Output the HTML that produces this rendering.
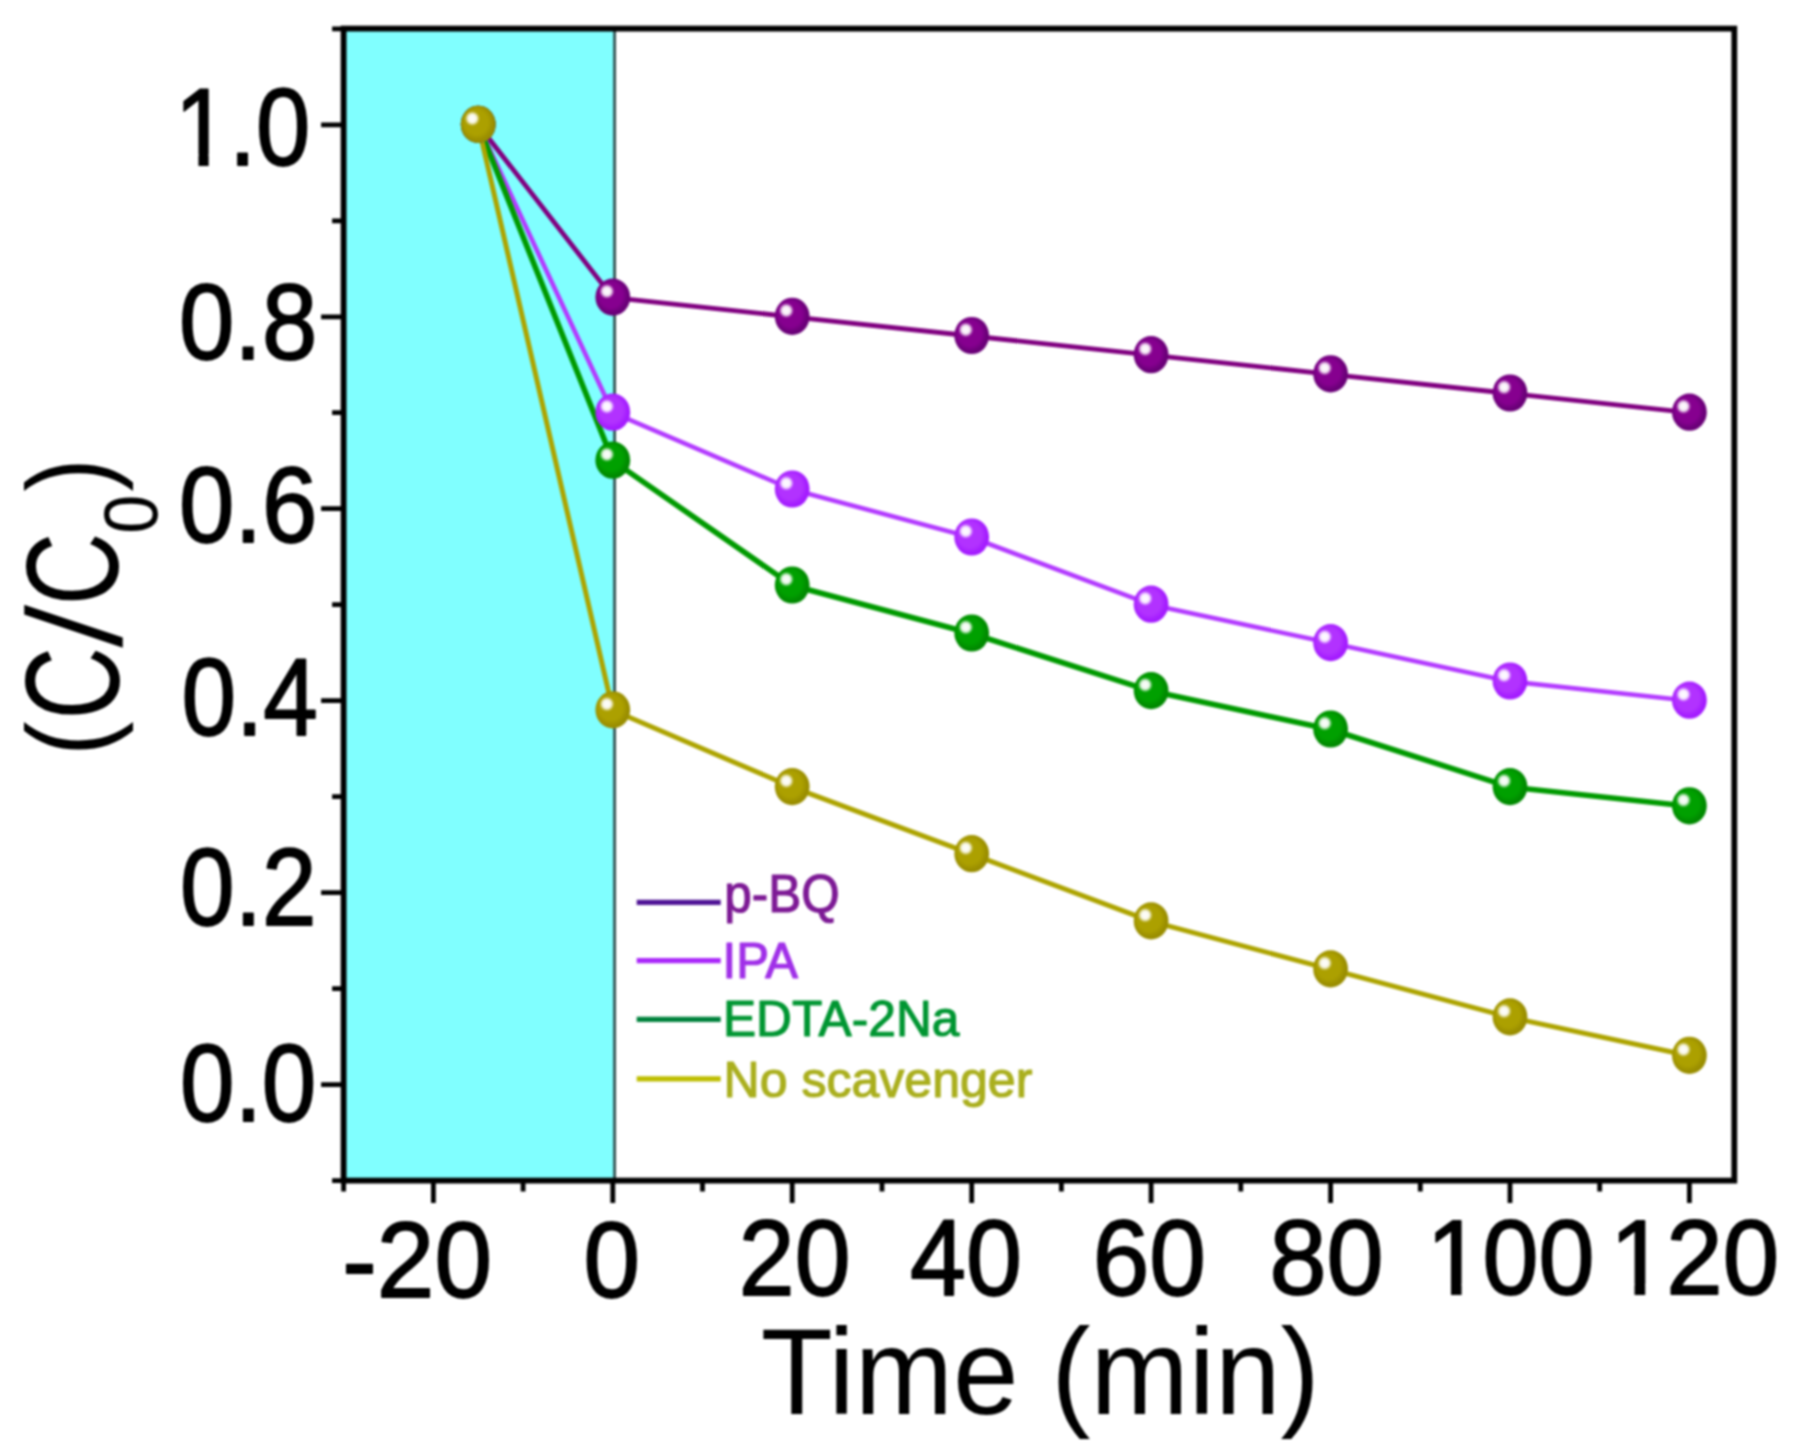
<!DOCTYPE html><html><head><meta charset="utf-8"><title>C/C0 vs Time</title><style>html,body{margin:0;padding:0;background:#fff;overflow:hidden;}svg{display:block;}#w{width:1794px;height:1455px;filter:blur(1.0px);}</style></head><body>
<div id="w">
<svg width="1794" height="1455" viewBox="0 0 1794 1455">
<defs>
<radialGradient id="gpbq" cx="0.45" cy="0.45" r="0.6"><stop offset="0" stop-color="#86008F"/><stop offset="0.55" stop-color="#86008F"/><stop offset="0.8" stop-color="#6A0078"/><stop offset="1" stop-color="#6A0078"/></radialGradient>
<radialGradient id="gipa" cx="0.45" cy="0.45" r="0.6"><stop offset="0" stop-color="#B232FF"/><stop offset="0.55" stop-color="#B232FF"/><stop offset="0.8" stop-color="#A41CFF"/><stop offset="1" stop-color="#A41CFF"/></radialGradient>
<radialGradient id="gedta" cx="0.45" cy="0.45" r="0.6"><stop offset="0" stop-color="#00A000"/><stop offset="0.55" stop-color="#00A000"/><stop offset="0.8" stop-color="#008A00"/><stop offset="1" stop-color="#008A00"/></radialGradient>
<radialGradient id="gnos" cx="0.45" cy="0.45" r="0.6"><stop offset="0" stop-color="#ACA000"/><stop offset="0.55" stop-color="#ACA000"/><stop offset="0.8" stop-color="#9A8E00"/><stop offset="1" stop-color="#9A8E00"/></radialGradient>
<radialGradient id="hl" cx="0.5" cy="0.5" r="0.5"><stop offset="0" stop-color="#fff"/><stop offset="0.55" stop-color="#fff" stop-opacity="0.92"/><stop offset="1" stop-color="#fff" stop-opacity="0"/></radialGradient>
</defs>
<rect width="1794" height="1455" fill="#fff"/>
<rect x="343.6" y="28.6" width="270.0" height="1152.0" fill="#80FFFF"/>
<line x1="614.6" y1="28.6" x2="614.6" y2="1180.6" stroke="#2f5050" stroke-width="2.8"/>
<polyline points="478.2,124.8 612.8,297.6 792.2,316.8 971.7,336.0 1151.1,355.2 1330.6,374.3 1510.0,393.5 1689.4,412.7" fill="none" stroke="#800080" stroke-width="4.8" stroke-linejoin="round"/>
<polyline points="478.2,124.8 612.8,412.7 792.2,489.5 971.7,537.5 1151.1,604.7 1330.6,643.1 1510.0,681.5 1689.4,700.7" fill="none" stroke="#B33BFF" stroke-width="4.6" stroke-linejoin="round"/>
<polyline points="478.2,124.8 612.8,460.7 792.2,585.5 971.7,633.5 1151.1,691.1 1330.6,729.5 1510.0,787.1 1689.4,806.3" fill="none" stroke="#009A00" stroke-width="5.6" stroke-linejoin="round"/>
<polyline points="478.2,124.8 612.8,710.3 792.2,787.1 971.7,854.2 1151.1,921.4 1330.6,969.4 1510.0,1017.4 1689.4,1055.8" fill="none" stroke="#ADA400" stroke-width="5.0" stroke-linejoin="round"/>
<ellipse cx="478.2" cy="124.3" rx="17.4" ry="18.6" fill="url(#gpbq)"/>
<circle cx="472.3" cy="118.5" r="7.5" fill="url(#hl)"/>
<ellipse cx="612.8" cy="297.1" rx="17.4" ry="18.6" fill="url(#gpbq)"/>
<circle cx="606.9" cy="291.3" r="7.5" fill="url(#hl)"/>
<ellipse cx="792.2" cy="316.3" rx="17.4" ry="18.6" fill="url(#gpbq)"/>
<circle cx="786.3" cy="310.5" r="7.5" fill="url(#hl)"/>
<ellipse cx="971.7" cy="335.5" rx="17.4" ry="18.6" fill="url(#gpbq)"/>
<circle cx="965.8" cy="329.7" r="7.5" fill="url(#hl)"/>
<ellipse cx="1151.1" cy="354.7" rx="17.4" ry="18.6" fill="url(#gpbq)"/>
<circle cx="1145.2" cy="348.9" r="7.5" fill="url(#hl)"/>
<ellipse cx="1330.6" cy="373.8" rx="17.4" ry="18.6" fill="url(#gpbq)"/>
<circle cx="1324.7" cy="368.0" r="7.5" fill="url(#hl)"/>
<ellipse cx="1510.0" cy="393.0" rx="17.4" ry="18.6" fill="url(#gpbq)"/>
<circle cx="1504.1" cy="387.2" r="7.5" fill="url(#hl)"/>
<ellipse cx="1689.4" cy="412.2" rx="17.4" ry="18.6" fill="url(#gpbq)"/>
<circle cx="1683.5" cy="406.4" r="7.5" fill="url(#hl)"/>
<ellipse cx="478.2" cy="124.3" rx="17.4" ry="18.6" fill="url(#gipa)"/>
<circle cx="472.3" cy="118.5" r="7.5" fill="url(#hl)"/>
<ellipse cx="612.8" cy="412.2" rx="17.4" ry="18.6" fill="url(#gipa)"/>
<circle cx="606.9" cy="406.4" r="7.5" fill="url(#hl)"/>
<ellipse cx="792.2" cy="489.0" rx="17.4" ry="18.6" fill="url(#gipa)"/>
<circle cx="786.3" cy="483.2" r="7.5" fill="url(#hl)"/>
<ellipse cx="971.7" cy="537.0" rx="17.4" ry="18.6" fill="url(#gipa)"/>
<circle cx="965.8" cy="531.2" r="7.5" fill="url(#hl)"/>
<ellipse cx="1151.1" cy="604.2" rx="17.4" ry="18.6" fill="url(#gipa)"/>
<circle cx="1145.2" cy="598.4" r="7.5" fill="url(#hl)"/>
<ellipse cx="1330.6" cy="642.6" rx="17.4" ry="18.6" fill="url(#gipa)"/>
<circle cx="1324.7" cy="636.8" r="7.5" fill="url(#hl)"/>
<ellipse cx="1510.0" cy="681.0" rx="17.4" ry="18.6" fill="url(#gipa)"/>
<circle cx="1504.1" cy="675.2" r="7.5" fill="url(#hl)"/>
<ellipse cx="1689.4" cy="700.2" rx="17.4" ry="18.6" fill="url(#gipa)"/>
<circle cx="1683.5" cy="694.4" r="7.5" fill="url(#hl)"/>
<ellipse cx="478.2" cy="124.3" rx="17.4" ry="18.6" fill="url(#gedta)"/>
<circle cx="472.3" cy="118.5" r="7.5" fill="url(#hl)"/>
<ellipse cx="612.8" cy="460.2" rx="17.4" ry="18.6" fill="url(#gedta)"/>
<circle cx="606.9" cy="454.4" r="7.5" fill="url(#hl)"/>
<ellipse cx="792.2" cy="585.0" rx="17.4" ry="18.6" fill="url(#gedta)"/>
<circle cx="786.3" cy="579.2" r="7.5" fill="url(#hl)"/>
<ellipse cx="971.7" cy="633.0" rx="17.4" ry="18.6" fill="url(#gedta)"/>
<circle cx="965.8" cy="627.2" r="7.5" fill="url(#hl)"/>
<ellipse cx="1151.1" cy="690.6" rx="17.4" ry="18.6" fill="url(#gedta)"/>
<circle cx="1145.2" cy="684.8" r="7.5" fill="url(#hl)"/>
<ellipse cx="1330.6" cy="729.0" rx="17.4" ry="18.6" fill="url(#gedta)"/>
<circle cx="1324.7" cy="723.2" r="7.5" fill="url(#hl)"/>
<ellipse cx="1510.0" cy="786.6" rx="17.4" ry="18.6" fill="url(#gedta)"/>
<circle cx="1504.1" cy="780.8" r="7.5" fill="url(#hl)"/>
<ellipse cx="1689.4" cy="805.8" rx="17.4" ry="18.6" fill="url(#gedta)"/>
<circle cx="1683.5" cy="800.0" r="7.5" fill="url(#hl)"/>
<ellipse cx="478.2" cy="124.3" rx="17.4" ry="18.6" fill="url(#gnos)"/>
<circle cx="472.3" cy="118.5" r="7.5" fill="url(#hl)"/>
<ellipse cx="612.8" cy="709.8" rx="17.4" ry="18.6" fill="url(#gnos)"/>
<circle cx="606.9" cy="704.0" r="7.5" fill="url(#hl)"/>
<ellipse cx="792.2" cy="786.6" rx="17.4" ry="18.6" fill="url(#gnos)"/>
<circle cx="786.3" cy="780.8" r="7.5" fill="url(#hl)"/>
<ellipse cx="971.7" cy="853.7" rx="17.4" ry="18.6" fill="url(#gnos)"/>
<circle cx="965.8" cy="847.9" r="7.5" fill="url(#hl)"/>
<ellipse cx="1151.1" cy="920.9" rx="17.4" ry="18.6" fill="url(#gnos)"/>
<circle cx="1145.2" cy="915.1" r="7.5" fill="url(#hl)"/>
<ellipse cx="1330.6" cy="968.9" rx="17.4" ry="18.6" fill="url(#gnos)"/>
<circle cx="1324.7" cy="963.1" r="7.5" fill="url(#hl)"/>
<ellipse cx="1510.0" cy="1016.9" rx="17.4" ry="18.6" fill="url(#gnos)"/>
<circle cx="1504.1" cy="1011.1" r="7.5" fill="url(#hl)"/>
<ellipse cx="1689.4" cy="1055.3" rx="17.4" ry="18.6" fill="url(#gnos)"/>
<circle cx="1683.5" cy="1049.5" r="7.5" fill="url(#hl)"/>
<rect x="343.6" y="28.6" width="1390.7" height="1152.0" fill="none" stroke="#000" stroke-width="5.8"/>
<path d="M343.6,1180.6h-11.5 M343.6,1084.6h-22.5 M343.6,988.6h-11.5 M343.6,892.6h-22.5 M343.6,796.7h-11.5 M343.6,700.7h-22.5 M343.6,604.7h-11.5 M343.6,508.7h-22.5 M343.6,412.7h-11.5 M343.6,316.8h-22.5 M343.6,220.8h-11.5 M343.6,124.8h-22.5 M343.6,28.8h-11.5 M343.6,1180.6v11 M433.4,1180.6v22.5 M523.1,1180.6v11 M612.8,1180.6v22.5 M702.5,1180.6v11 M792.2,1180.6v22.5 M882.0,1180.6v11 M971.7,1180.6v22.5 M1061.4,1180.6v11 M1151.1,1180.6v22.5 M1240.8,1180.6v11 M1330.6,1180.6v22.5 M1420.3,1180.6v11 M1510.0,1180.6v22.5 M1599.7,1180.6v11 M1689.4,1180.6v22.5" stroke="#000" stroke-width="4.8" fill="none"/>
<line x1="636.7" y1="902.3" x2="720.7" y2="902.3" stroke="#501496" stroke-width="5.2"/>
<line x1="636.7" y1="960.6" x2="720.7" y2="960.6" stroke="#AA28FA" stroke-width="5.2"/>
<line x1="636.7" y1="1019.4" x2="720.7" y2="1019.4" stroke="#00823C" stroke-width="5.2"/>
<line x1="636.7" y1="1078.9" x2="720.7" y2="1078.9" stroke="#BEBE00" stroke-width="5.2"/>
<g font-family="'Liberation Sans', Arial, Helvetica, sans-serif">
<g transform="translate(174.71,164.50) scale(0.8955,1)"><text font-size="108.98" fill="#000" stroke="#000" stroke-width="1.8" stroke-linejoin="round">1.0</text><rect x="5.88" y="-10.24" width="20.62" height="12.34" fill="#fff"/><rect x="37.94" y="-10.24" width="19.77" height="12.34" fill="#fff"/></g>
<g transform="translate(179.05,358.55) scale(0.9294,1)"><text font-size="107.03" fill="#000" stroke="#000" stroke-width="1.8" stroke-linejoin="round">0.8</text></g>
<g transform="translate(179.05,541.53) scale(0.9303,1)"><text font-size="107.03" fill="#000" stroke="#000" stroke-width="1.8" stroke-linejoin="round">0.6</text></g>
<g transform="translate(181.55,735.02) scale(0.8996,1)"><text font-size="109.04" fill="#000" stroke="#000" stroke-width="1.8" stroke-linejoin="round">0.4</text></g>
<g transform="translate(180.11,924.99) scale(0.8995,1)"><text font-size="109.09" fill="#000" stroke="#000" stroke-width="1.8" stroke-linejoin="round">0.2</text></g>
<g transform="translate(180.11,1120.53) scale(0.8987,1)"><text font-size="109.09" fill="#000" stroke="#000" stroke-width="1.8" stroke-linejoin="round">0.0</text></g>
<g transform="translate(342.29,1296.50) scale(0.9570,1)"><text font-size="108.33" fill="#000" stroke="#000" stroke-width="1.8" stroke-linejoin="round">-20</text></g>
<g transform="translate(583.47,1296.50) scale(0.9393,1)"><text font-size="108.33" fill="#000" stroke="#000" stroke-width="1.8" stroke-linejoin="round">0</text></g>
<g transform="translate(738.87,1294.53) scale(0.9378,1)"><text font-size="107.03" fill="#000" stroke="#000" stroke-width="1.8" stroke-linejoin="round">20</text></g>
<g transform="translate(910.07,1294.53) scale(0.9401,1)"><text font-size="107.03" fill="#000" stroke="#000" stroke-width="1.8" stroke-linejoin="round">40</text></g>
<g transform="translate(1092.71,1294.52) scale(0.9408,1)"><text font-size="108.30" fill="#000" stroke="#000" stroke-width="1.8" stroke-linejoin="round">60</text></g>
<g transform="translate(1269.48,1294.04) scale(0.9655,1)"><text font-size="106.27" fill="#000" stroke="#000" stroke-width="1.8" stroke-linejoin="round">80</text></g>
<g transform="translate(1426.49,1294.04) scale(0.9480,1)"><text font-size="106.27" fill="#000" stroke="#000" stroke-width="1.8" stroke-linejoin="round">100</text><rect x="5.68" y="-10.04" width="20.14" height="12.14" fill="#fff"/><rect x="37.02" y="-10.04" width="19.31" height="12.14" fill="#fff"/></g>
<g transform="translate(1609.90,1294.04) scale(0.9543,1)"><text font-size="106.27" fill="#000" stroke="#000" stroke-width="1.8" stroke-linejoin="round">120</text><rect x="5.68" y="-10.04" width="20.14" height="12.14" fill="#fff"/><rect x="37.02" y="-10.04" width="19.31" height="12.14" fill="#fff"/></g>
<g transform="translate(760.81,1414.30) scale(0.9692,1)"><text font-size="121.70" fill="#000" >Time (min)</text></g>
<text transform="translate(118.50,749.70) rotate(-90) translate(-6.26,-9.54) scale(0.8903,1)" font-size="116.59" fill="#000" >(</text>
<text transform="translate(118.50,749.70) rotate(-90) translate(30.03,0.62) scale(0.7574,1)" font-size="133.47" fill="#000" >C</text>
<text transform="translate(118.50,749.70) rotate(-90) translate(99.94,4.55) scale(1.2404,1)" font-size="136.50" fill="#000" stroke="#fff" stroke-width="2.4">/</text>
<text transform="translate(118.50,749.70) rotate(-90) translate(144.09,-0.35) scale(0.7650,1)" font-size="132.06" fill="#000" >C</text>
<text transform="translate(118.50,749.70) rotate(-90) translate(215.94,38.75) scale(0.9192,1)" font-size="76.33" fill="#000" >0</text>
<text transform="translate(118.50,749.70) rotate(-90) translate(258.11,-9.06) scale(0.8609,1)" font-size="116.01" fill="#000" >)</text>
<g transform="translate(724.31,911.80) scale(0.9215,1)"><text font-size="53.63" fill="#7D1A95" stroke="#7D1A95" stroke-width="1.2" stroke-linejoin="round">p-BQ</text></g>
<g transform="translate(722.55,978.46) scale(0.9949,1)"><text font-size="49.30" fill="#A030E8" stroke="#A030E8" stroke-width="1.2" stroke-linejoin="round">IPA</text></g>
<g transform="translate(723.01,1036.42) scale(0.9776,1)"><text font-size="50.79" fill="#009632" stroke="#009632" stroke-width="1.2" stroke-linejoin="round">EDTA-2Na</text></g>
<g transform="translate(723.59,1097.00) scale(1.0011,1)"><text font-size="50.00" fill="#AAAF1E" stroke="#AAAF1E" stroke-width="1.2" stroke-linejoin="round">No scavenger</text></g>
</g>
</svg></div></body></html>
